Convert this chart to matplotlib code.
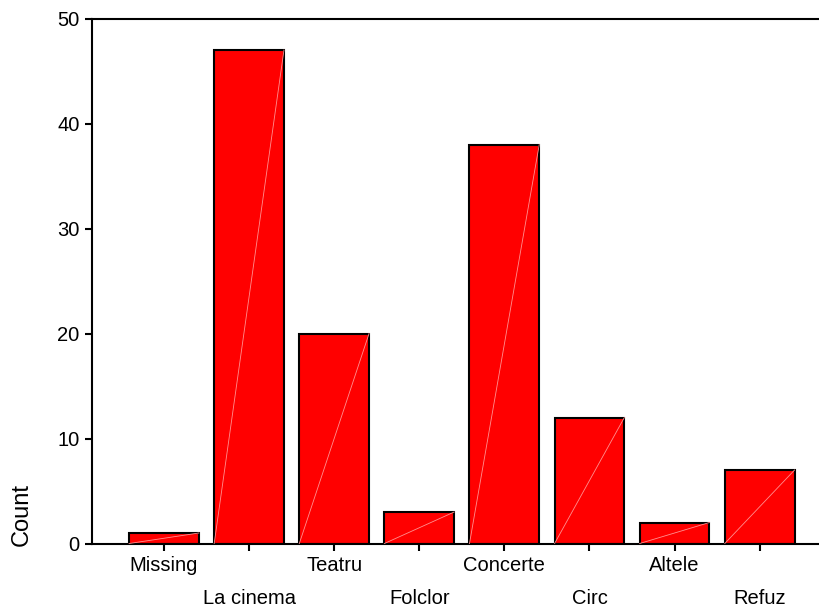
import matplotlib
matplotlib.use("Agg")
import matplotlib.pyplot as plt
import numpy as np

categories = ["Missing", "La cinema", "Teatru", "Folclor", "Concerte", "Circ", "Altele", "Refuz"]
counts = [1, 47, 20, 3, 38, 12, 2, 7]
yticks = [0, 10, 20, 30, 40, 50]

plt.rcParams['font.family'] = ['Liberation Sans', 'DejaVu Sans']

W, H = 820, 612
fig = plt.figure(figsize=(W/100, H/100), dpi=100)
ax = fig.add_axes([92/W, (H-543.5)/H, 1 - 92/W, (543.5-18.5)/H])

x = np.arange(len(categories))
width = 0.82
bars = ax.bar(x, counts, width=width, color='#ff0000', edgecolor='black', linewidth=1.5, zorder=2)
for xi, c in zip(x, counts):
    ax.plot([xi - width/2, xi + width/2], [0, c], color='#ff9090', lw=0.6, zorder=3)

ax.set_xlim(-0.846, 7.709)
ax.set_ylim(0, 50)
ax.set_yticks(yticks)
ax.set_yticklabels([str(t) for t in yticks])

even = x[::2]
odd = x[1::2]
ax.set_xticks(even)
ax.set_xticklabels([categories[i] for i in even])
ax.set_xticks(odd, minor=True)
ax.set_xticklabels([categories[i] for i in odd], minor=True)

ax.tick_params(axis='both', which='both', direction='out', length=5, width=1.5, labelsize=14.5, colors='black')
ax.tick_params(axis='x', which='major', pad=4)
ax.tick_params(axis='x', which='minor', pad=4 + 33*0.72)
ax.tick_params(axis='y', pad=4)

for s in ['left', 'bottom', 'top']:
    ax.spines[s].set_linewidth(1.5)
ax.spines['right'].set_visible(False)

fig.text(22/W, 1 - 514/H, 'Count', rotation=90, ha='center', va='center', fontsize=17)

fig.savefig('out.png', dpi=100)
